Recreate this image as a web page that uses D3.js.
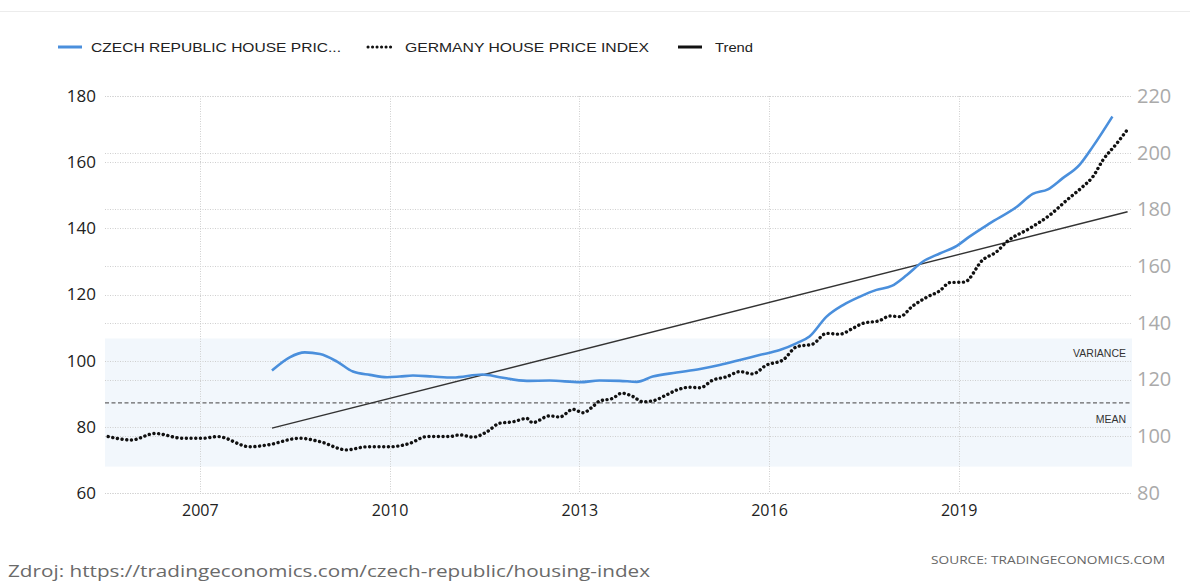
<!DOCTYPE html>
<html>
<head>
<meta charset="utf-8">
<script src="https://cdn.jsdelivr.net/npm/d3@7"></script>
<style>
  body { margin: 0; background: #fff; }
  svg { display: block; }
</style>
</head>
<body>
<div id="chart"></div>

<script>

// years as decimals
var czechYears = [2008.14, 2008.42, 2008.66, 2008.90, 2009.17, 2009.42, 2009.69, 2009.96, 2010.16, 2010.37,
                  2010.68, 2011.00, 2011.47, 2011.74, 2012.17, 2012.53, 2013.01, 2013.32, 2013.64, 2013.91,
                  2014.16, 2014.54, 2014.91, 2015.22, 2015.54, 2015.85, 2016.17, 2016.44, 2016.64, 2016.91,
                  2017.17, 2017.43, 2017.70, 2017.94, 2018.18, 2018.43, 2018.70, 2018.97, 2019.17, 2019.49,
                  2019.92, 2020.17, 2020.41, 2020.64, 2020.91, 2021.12, 2021.43];
var czechValues = [97.0, 101.0, 102.5, 102.0, 99.7, 96.7, 95.7, 95.0, 95.2, 95.5,
                   95.2, 94.9, 95.8, 95.0, 93.9, 94.0, 93.5, 94.0, 93.9, 93.6,
                   95.2, 96.4, 97.5, 98.7, 100.2, 101.7, 103.2, 105.3, 107.3, 113.3,
                   116.8, 119.3, 121.4, 122.6, 125.9, 129.9, 132.4, 134.7, 137.5, 141.5,
                   146.5, 150.4, 151.8, 155.1, 159.2, 164.7, 173.8];

var germanyYears = [2005.55, 2005.92, 2006.29, 2006.73, 2007.05, 2007.28, 2007.79, 2008.06, 2008.58, 2008.90,
                    2009.32, 2009.64, 2010.00, 2010.32, 2010.59, 2010.95, 2011.11, 2011.32, 2011.54, 2011.74,
                    2011.95, 2012.17, 2012.26, 2012.53, 2012.69, 2012.90, 2013.06, 2013.21, 2013.32, 2013.53,
                    2013.67, 2013.85, 2014.00, 2014.16, 2014.38, 2014.54, 2014.75, 2014.91, 2015.11, 2015.33,
                    2015.54, 2015.74, 2015.96, 2016.22, 2016.44, 2016.69, 2016.91, 2017.12, 2017.32, 2017.48,
                    2017.75, 2017.91, 2018.07, 2018.27, 2018.49, 2018.70, 2018.86, 2019.09, 2019.38, 2019.60,
                    2019.76, 2020.12, 2020.44, 2020.71, 2020.96, 2021.12, 2021.28, 2021.50, 2021.67];
var germanyValues = [99.9, 98.7, 101.0, 99.3, 99.3, 99.9, 96.3, 96.9, 99.3, 98.1,
                     95.2, 96.3, 96.3, 97.5, 99.9, 99.9, 100.5, 99.7, 101.6, 104.6,
                     105.1, 106.3, 104.8, 107.2, 106.8, 109.5, 108.3, 110.4, 112.4, 113.4,
                     115.2, 114.0, 112.2, 112.5, 114.6, 116.3, 117.3, 117.1, 119.8, 121.0,
                     122.8, 122.0, 125.1, 126.9, 131.6, 132.5, 136.3, 136.0, 138.0, 139.8,
                     140.8, 142.4, 142.2, 145.9, 149.0, 151.3, 154.2, 154.4, 162.2, 165.1,
                     168.6, 173.3, 178.0, 183.3, 188.0, 191.5, 197.4, 203.3, 208.2];

// trend (left axis), start and end
var trendYears = [2008.14, 2021.67];
var trendValues = [79.6, 145.0];

// mean and variance band of the germany series (right axis)
var germanyMean = 111.8;
var germanyBand = [89.3, 134.5];

var yearTicks = [2007, 2010, 2013, 2016, 2019];
var leftTicks = [60, 80, 100, 120, 140, 160, 180];
var rightTicks = [80, 100, 120, 140, 160, 180, 200, 220];

var legendLabels = ["CZECH REPUBLIC HOUSE PRIC...", "GERMANY HOUSE PRICE INDEX", "Trend"];
var sourceLeft = "Zdroj: https://tradingeconomics.com/czech-republic/housing-index";
var sourceRight = "SOURCE:  TRADINGECONOMICS.COM";

function drawChart(tag) {
  var W = 1190, H = 581;
  var margin = {top: 96, right: 58, bottom: 88, left: 105},
      width = W - margin.left - margin.right,
      height = H - margin.top - margin.bottom;

  var svg = d3.select(tag)
    .append("svg")
      .attr("width", W)
      .attr("height", H);

  // faint rule across the top
  svg.append("line")
    .attr("x1", 0).attr("x2", W)
    .attr("y1", 11.5).attr("y2", 11.5)
    .attr("stroke", "#ececec");

  var g = svg.append("g")
    .attr("transform", "translate(" + margin.left + "," + margin.top + ")");

  var x = d3.scaleLinear().domain([2005.5, 2021.74]).range([0, width]);
  var yL = d3.scaleLinear().domain([60, 180]).range([height, 0]);
  var yR = d3.scaleLinear().domain([80, 220]).range([height, 0]);

  // variance band
  g.append("rect")
    .attr("x", 0)
    .attr("width", width)
    .attr("y", yR(germanyBand[1]))
    .attr("height", yR(germanyBand[0]) - yR(germanyBand[1]))
    .attr("fill", "#f2f7fc");

  // gridlines for both axes
  var grid = g.append("g").attr("stroke", "#cfcfcf").attr("stroke-dasharray", "1,1.5");
  grid.selectAll(".gl").data(leftTicks).enter().append("line")
    .attr("x1", 0).attr("x2", width)
    .attr("y1", function(d) { return Math.round(yL(d)) + 0.5; })
    .attr("y2", function(d) { return Math.round(yL(d)) + 0.5; });
  grid.selectAll(".gr").data(rightTicks).enter().append("line")
    .attr("x1", 0).attr("x2", width)
    .attr("y1", function(d) { return Math.round(yR(d)) + 0.5; })
    .attr("y2", function(d) { return Math.round(yR(d)) + 0.5; });
  grid.selectAll(".gx").data(yearTicks).enter().append("line")
    .attr("y1", 0).attr("y2", height)
    .attr("x1", function(d) { return Math.round(x(d)) + 0.5; })
    .attr("x2", function(d) { return Math.round(x(d)) + 0.5; });

  // mean line
  g.append("line")
    .attr("x1", 0).attr("x2", width)
    .attr("y1", yR(germanyMean)).attr("y2", yR(germanyMean))
    .attr("stroke", "#666")
    .attr("stroke-width", 1.2)
    .attr("stroke-dasharray", "4,2.5");

  g.append("text")
    .attr("x", width - 6).attr("y", yR(germanyBand[1]) + 19)
    .attr("text-anchor", "end")
    .attr("font-family", "Liberation Sans, Arial, sans-serif")
    .attr("font-size", 10.5).attr("fill", "#333")
    .text("VARIANCE");
  g.append("text")
    .attr("x", width - 6).attr("y", yR(germanyMean) + 20)
    .attr("text-anchor", "end")
    .attr("font-family", "Liberation Sans, Arial, sans-serif")
    .attr("font-size", 10.5).attr("fill", "#333")
    .text("MEAN");

  // axes
  var axL = g.append("g")
    .call(d3.axisLeft(yL).tickValues(leftTicks).tickSize(0).tickPadding(9));
  axL.select(".domain").remove();
  axL.selectAll("text")
    .attr("font-family", "Open Sans, sans-serif")
    .attr("font-size", 17).attr("fill", "#222");

  var axR = g.append("g")
    .attr("transform", "translate(" + width + ",0)")
    .call(d3.axisRight(yR).tickValues(rightTicks).tickSize(0).tickPadding(5));
  axR.select(".domain").remove();
  axR.selectAll("text")
    .attr("font-family", "Open Sans, sans-serif")
    .attr("font-size", 20).attr("fill", "#aaa");

  var axX = g.append("g")
    .attr("transform", "translate(0," + height + ")")
    .call(d3.axisBottom(x).tickValues(yearTicks).tickFormat(d3.format("d")).tickSize(0).tickPadding(12));
  axX.select(".domain").remove();
  axX.selectAll("text")
    .attr("font-family", "Open Sans, sans-serif")
    .attr("font-size", 16).attr("fill", "#222");

  // trend
  g.append("path")
    .datum(d3.zip(trendYears, trendValues))
    .attr("fill", "none")
    .attr("stroke", "#333")
    .attr("stroke-width", 1.4)
    .attr("d", d3.line()
      .x(function(d) { return x(d[0]); })
      .y(function(d) { return yL(d[1]); }));

  // germany, right axis, dotted
  g.append("path")
    .datum(d3.zip(germanyYears, germanyValues))
    .attr("fill", "none")
    .attr("stroke", "#111")
    .attr("stroke-width", 3.4)
    .attr("stroke-linecap", "round")
    .attr("stroke-dasharray", "0.1,4.6")
    .attr("d", d3.line()
      .curve(d3.curveMonotoneX)
      .x(function(d) { return x(d[0]); })
      .y(function(d) { return yR(d[1]); }));

  // czech, left axis
  g.append("path")
    .datum(d3.zip(czechYears, czechValues))
    .attr("fill", "none")
    .attr("stroke", "#4a8fdc")
    .attr("stroke-width", 2.6)
    .attr("stroke-linejoin", "round")
    .attr("d", d3.line()
      .curve(d3.curveMonotoneX)
      .x(function(d) { return x(d[0]); })
      .y(function(d) { return yL(d[1]); }));

  // legend
  var leg = svg.append("g").attr("transform", "translate(0,47)");
  var legItems = [
    {x: 58, tx: 91, w: 250, stroke: "#4a8fdc", dash: null, sw: 3},
    {x: 368, tx: 405, w: 244, stroke: "#111", dash: "0.1,4.4", sw: 3},
    {x: 678, tx: 715, w: 38, stroke: "#111", dash: null, sw: 3}
  ];
  legItems.forEach(function(it, i) {
    leg.append("line")
      .attr("x1", it.x).attr("x2", it.x + 24)
      .attr("y1", 0).attr("y2", 0)
      .attr("stroke", it.stroke)
      .attr("stroke-width", it.sw)
      .attr("stroke-linecap", it.dash ? "round" : "butt")
      .attr("stroke-dasharray", it.dash);
    leg.append("text")
      .attr("x", it.tx).attr("y", 4.5)
      .attr("font-family", "Liberation Sans, Arial, sans-serif")
      .attr("font-size", 13).attr("fill", "#222")
      .attr("textLength", it.w)
      .attr("lengthAdjust", "spacingAndGlyphs")
      .text(legendLabels[i]);
  });

  // footer
  svg.append("text")
    .attr("x", 8).attr("y", 577)
    .attr("font-family", "Open Sans, sans-serif")
    .attr("font-size", 17).attr("fill", "#6a6a6a")
    .attr("textLength", 642)
    .attr("lengthAdjust", "spacingAndGlyphs")
    .text(sourceLeft);
  svg.append("text")
    .attr("x", 931).attr("y", 564)
    .attr("font-family", "Open Sans, sans-serif")
    .attr("font-size", 10.5).attr("fill", "#666")
    .attr("textLength", 234)
    .attr("lengthAdjust", "spacingAndGlyphs")
    .text(sourceRight);
}

drawChart("#chart");

</script>
</body>
</html>
